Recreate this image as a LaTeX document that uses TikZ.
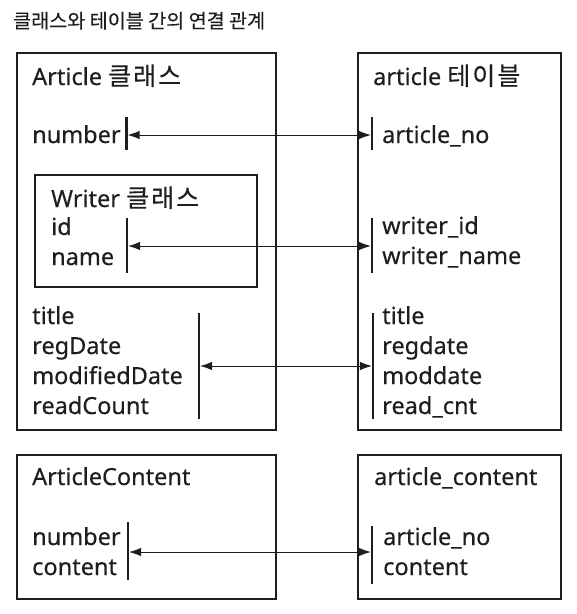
\documentclass[tikz,border=0pt]{standalone}
\usepackage{fontspec}
\setmainfont[FakeBold=0.35,AutoFakeBold=false]{Noto Sans}
\newfontfamily\kr[FakeBold=0.35,AutoFakeBold=false]{Noto Sans CJK KR}
\newfontfamily\krw[FakeBold=0.35,AutoFakeBold=false,LetterSpace=8]{Noto Sans CJK KR}
\usetikzlibrary{arrows.meta}
\definecolor{ink}{HTML}{1E1E1E}
\tikzset{
  box/.style={draw=ink, line width=1.2pt},
  lbl/.style={anchor=base west, inner sep=0pt, text=ink, font=\fontsize{23.5}{23.5}\selectfont},
  ttl/.style={anchor=base west, inner sep=0pt, text=ink, font=\kr\fontsize{19.6}{19.6}\selectfont},
  bar/.style={draw=ink, line width=2.2pt},
  link/.style={draw=ink, line width=0.9pt, {Latex[length=12pt,width=8.5pt]}-{Latex[length=12pt,width=8.5pt]}}
}
\newcommand{\hg}[1]{{\krw\fontsize{25}{25}\selectfont #1}}
\begin{document}
\begin{tikzpicture}[x=1pt,y=-1pt]
\useasboundingbox (0,0) rectangle (577,614);
% title
\node[ttl] (title) at (13,28) {클래스와 테이블 간의 연결 관계};
% boxes
\draw[box] (17,53) rectangle (276,430);
\draw[box] (358,53) rectangle (561,430);
\draw[box] (35,175) rectangle (257,287);
\draw[box] (17,455) rectangle (276,599);
\draw[box] (358,455) rectangle (561,599);
% left texts
\node[lbl] (hA) at (32,85) {Article \hg{클래스}};
\node[lbl] (lnum) at (32,143) {number};
\node[lbl] (hW) at (51,207) {Writer \hg{클래스}};
\node[lbl] (lid) at (51,235) {id};
\node[lbl] (lname) at (51,265) {name};
\node[lbl] (ltitle) at (32,324) {title};
\node[lbl] (lreg) at (32,354) {regDate};
\node[lbl] (lmod) at (32,384) {modifiedDate};
\node[lbl] (lread) at (32,414) {readCount};
\node[lbl] (hAC) at (32,485) {ArticleContent};
\node[lbl] (lnum2) at (32,545) {number};
\node[lbl] (lcont) at (32,575) {content};
% right texts
\node[lbl] (ha) at (373,85) {article \hg{테이블}};
\node[lbl] (rno) at (382,143) {article\_no};
\node[lbl] (rwid) at (382,234) {writer\_id};
\node[lbl] (rwname) at (382,264) {writer\_name};
\node[lbl] (rtitle) at (382,324) {title};
\node[lbl] (rreg) at (382,354) {regdate};
\node[lbl] (rmod) at (382,384) {moddate};
\node[lbl] (rread) at (382,414) {read\_cnt};
\node[lbl] (hac) at (374,485) {article\_content};
\node[lbl] (rno2) at (383,545) {article\_no};
\node[lbl] (rcont) at (383,575) {content};
% bars
\coordinate (l1t) at (126.5,117); \coordinate (l1b) at (126.5,150); \coordinate (l1m) at (126.5,135);
\coordinate (r1t) at (372,117);   \coordinate (r1b) at (372,150);   \coordinate (r1m) at (372,135);
\coordinate (l2t) at (127,218);   \coordinate (l2b) at (127,273);   \coordinate (l2m) at (127,246);
\coordinate (r2t) at (372,218);   \coordinate (r2b) at (372,273);   \coordinate (r2m) at (372,246);
\coordinate (l3t) at (199,313);   \coordinate (l3b) at (199,419);   \coordinate (l3m) at (199,366);
\coordinate (r3t) at (373,313);   \coordinate (r3b) at (373,419);   \coordinate (r3m) at (373,366);
\coordinate (l4t) at (128,522);   \coordinate (l4b) at (128,580);   \coordinate (l4m) at (128,552);
\coordinate (r4t) at (372,526);   \coordinate (r4b) at (372,584);   \coordinate (r4m) at (372,552);
\foreach \s in {l1,r1,l2,r2,l3,r3,l4,r4} \draw[bar] (\s t) -- (\s b);
% links
\draw[link] ([xshift=1.1pt]l1m) -- ([xshift=-1.1pt]r1m);
\draw[link] ([xshift=1.1pt]l2m) -- ([xshift=-1.1pt]r2m);
\draw[link] ([xshift=1.1pt]l3m) -- ([xshift=-1.1pt]r3m);
\draw[link] ([xshift=1.1pt]l4m) -- ([xshift=-1.1pt]r4m);
\end{tikzpicture}
\end{document}
